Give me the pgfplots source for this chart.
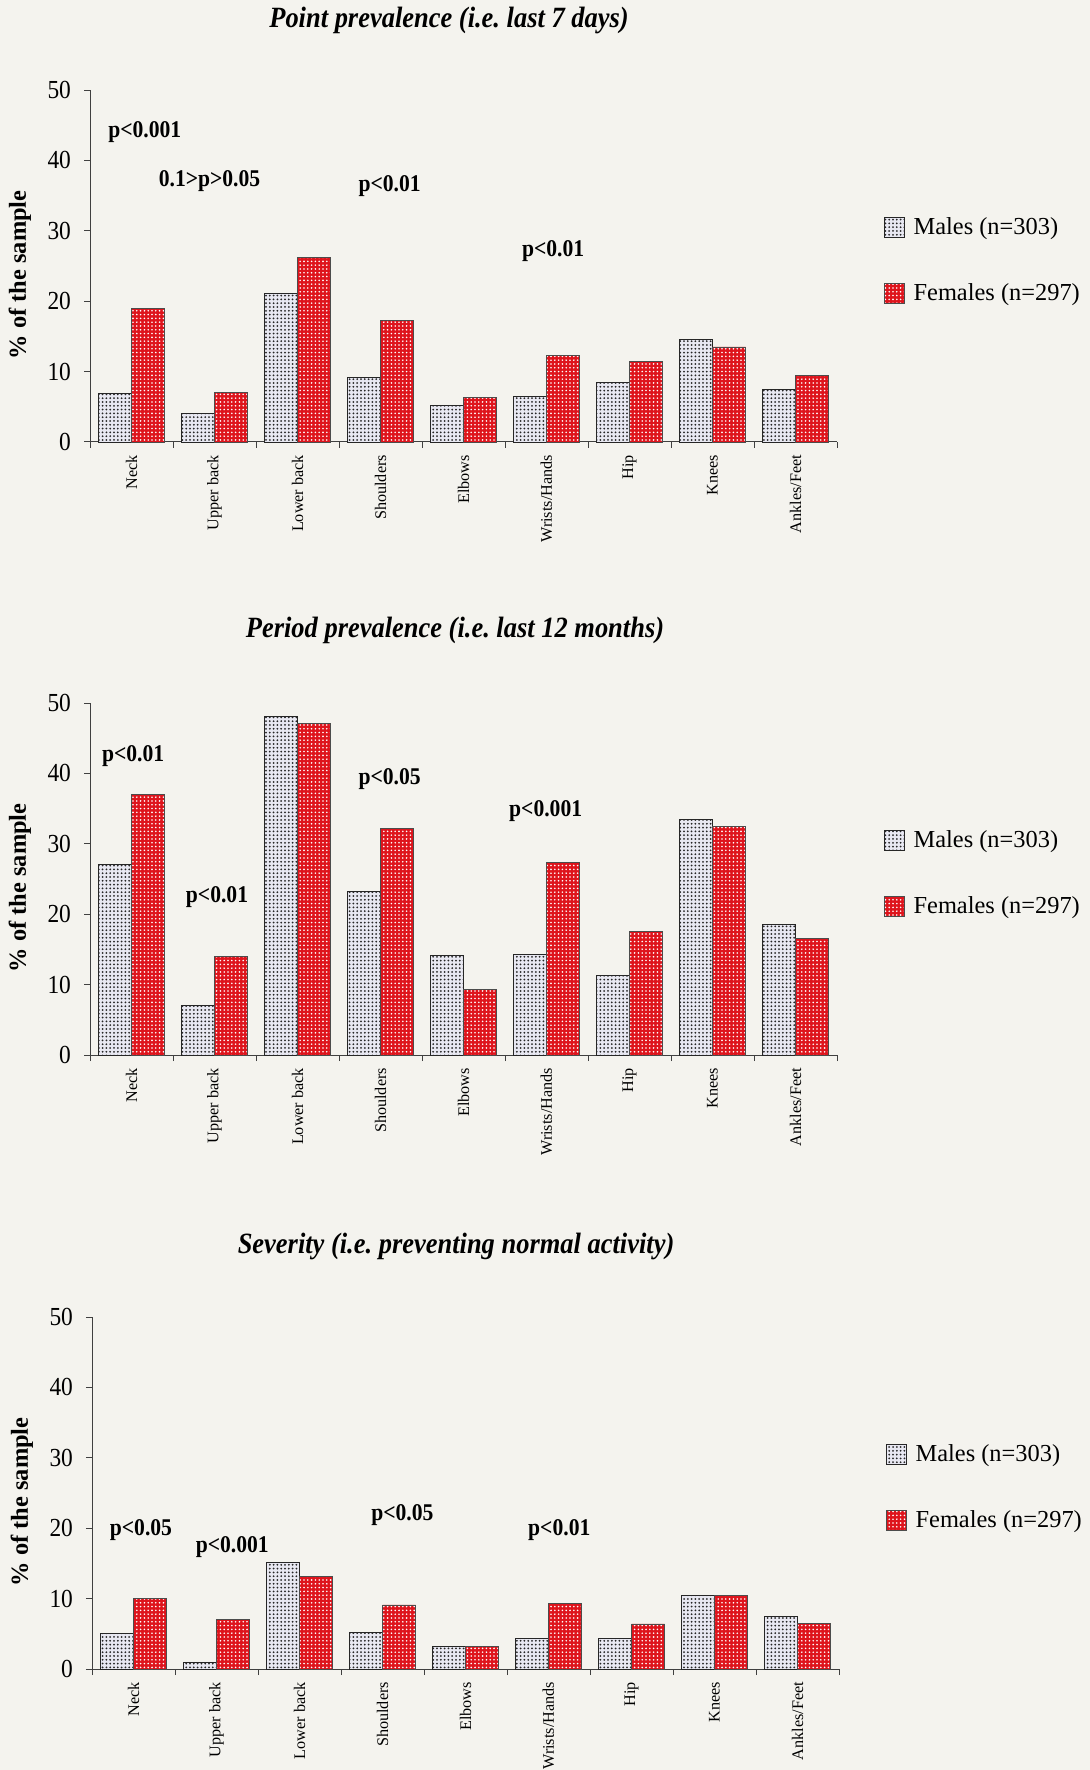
\documentclass[border=0pt]{standalone}
\usepackage{fontspec}
\setmainfont{Liberation Serif}
\newfontfamily\condserif[FakeStretch=0.9]{Liberation Serif}
\usepackage{pgfplots}
\pgfplotsset{compat=1.18}
\usetikzlibrary{patterns.meta}

\definecolor{pagebg}{RGB}{244,243,238}
\definecolor{malefill}{RGB}{232,232,242}
\definecolor{femred}{RGB}{222,20,28}

\newcommand\titlefont{\condserif\bfseries\itshape\fontsize{14.7}{16}\selectfont}
\newcommand\numfont{\condserif\fontsize{13}{14}\selectfont}
\newcommand\catfont{\fontsize{8.1}{10}\selectfont}
\newcommand\ylabfont{\bfseries\fontsize{12.2}{14}\selectfont}
\newcommand\legfont{\fontsize{12.2}{14}\selectfont}
\newcommand\pfont{\condserif\bfseries\fontsize{12}{14}\selectfont}

\tikzset{plab/.style={font=\pfont}}

\pgfplotsset{
  ybar legend/.style={legend image code/.code={\draw[##1] (0pt,-5pt) rectangle (10pt,5pt);}},
  bodychart/.style={
    scale only axis, width=373.5pt, height=176pt, anchor=south west,
    xmin=-0.5, xmax=8.5, ymin=0, ymax=50,
    ybar=0pt, bar width=16.5pt,
    axis x line*=bottom, axis y line*=left,
    axis line style={black!75, line width=0.5pt},
    xtick={-0.5,0.5,...,8.5},
    x tick label as interval,
    xticklabels={Neck,Upper back,Lower back,Shoulders,Elbows,Wrists/Hands,Hip,Knees,Ankles/Feet},
    ytick={0,10,...,50},
    tick align=outside, major tick length=3pt,
    tick style={black!75, line width=0.5pt},
    xticklabel style={rotate=90, anchor=east, font=\catfont},
    yticklabel style={font=\numfont, xshift=-3pt},
    /pgf/number format/assume math mode=true,
    ylabel={\% of the sample},
    ylabel style={at={(rel axis cs:-0.094,0.475)}, anchor=center, font=\ylabfont},
    legend style={at={(rel axis cs:1.062,0.515)}, anchor=west, draw=none, fill=none,
      inner sep=0pt, row sep=19pt, font=\legfont},
    legend cell align=left,
    clip=false,
  },
  males/.style={fill=malefill, draw=black!85, line width=0.45pt,
    postaction={pattern={Dots[distance=1.9pt,radius=0.5pt]}, pattern color=black!85}},
  females/.style={fill=femred, draw=black!70, line width=0.45pt,
    postaction={pattern={Dots[distance=1.9pt,radius=0.45pt]}, pattern color=white}},
}

\frenchspacing
\begin{document}
\begin{tikzpicture}
\fill[pagebg, use as bounding box] (0pt,0pt) rectangle (545pt,-885pt);

% --- Point prevalence ---
\node[font=\titlefont] at (224.5pt,-10pt) {Point prevalence (i.e. last 7 days)};
\begin{axis}[bodychart, at={(45pt,-221pt)}]
\addplot[males] coordinates {(0,6.9) (1,4.1) (2,21.1) (3,9.1) (4,5.2) (5,6.4) (6,8.4) (7,14.5) (8,7.5)};
\addplot[females] coordinates {(0,19.0) (1,7.0) (2,26.2) (3,17.3) (4,6.3) (5,12.3) (6,11.4) (7,13.5) (8,9.5)};
\legend{\hspace{2.5pt}Males (n=303), \hspace{2.5pt}Females (n=297)}
\node[plab] at (axis cs:0.16,44.0) {p<0.001};
\node[plab] at (axis cs:0.94,37.1) {0.1>p>0.05};
\node[plab] at (axis cs:3.11,36.3) {p<0.01};
\node[plab] at (axis cs:5.08,27.1) {p<0.01};
\end{axis}

% --- Period prevalence ---
\node[font=\titlefont] at (227.5pt,-315pt) {Period prevalence (i.e. last 12 months)};
\begin{axis}[bodychart, at={(45pt,-527.5pt)}]
\addplot[males] coordinates {(0,27.0) (1,7.1) (2,48.1) (3,23.2) (4,14.2) (5,14.3) (6,11.3) (7,33.5) (8,18.5)};
\addplot[females] coordinates {(0,37.0) (1,14.0) (2,47.1) (3,32.2) (4,9.3) (5,27.3) (6,17.5) (7,32.4) (8,16.6)};
\legend{\hspace{2.5pt}Males (n=303), \hspace{2.5pt}Females (n=297)}
\node[plab] at (axis cs:0.02,42.5) {p<0.01};
\node[plab] at (axis cs:1.03,22.4) {p<0.01};
\node[plab] at (axis cs:3.11,39.2) {p<0.05};
\node[plab] at (axis cs:4.99,34.7) {p<0.001};
\end{axis}

% --- Severity ---
\node[font=\titlefont] at (228pt,-623pt) {Severity (i.e. preventing normal activity)};
\begin{axis}[bodychart, at={(46pt,-834.5pt)}]
\addplot[males] coordinates {(0,5.0) (1,1.0) (2,15.1) (3,5.2) (4,3.2) (5,4.3) (6,4.4) (7,10.4) (8,7.5)};
\addplot[females] coordinates {(0,10.0) (1,7.0) (2,13.2) (3,9.1) (4,3.2) (5,9.3) (6,6.4) (7,10.4) (8,6.5)};
\legend{\hspace{2.5pt}Males (n=303), \hspace{2.5pt}Females (n=297)}
\node[plab] at (axis cs:0.09,19.7) {p<0.05};
\node[plab] at (axis cs:1.19,17.3) {p<0.001};
\node[plab] at (axis cs:3.24,21.8) {p<0.05};
\node[plab] at (axis cs:5.13,19.7) {p<0.01};
\end{axis}
\end{tikzpicture}
\end{document}
